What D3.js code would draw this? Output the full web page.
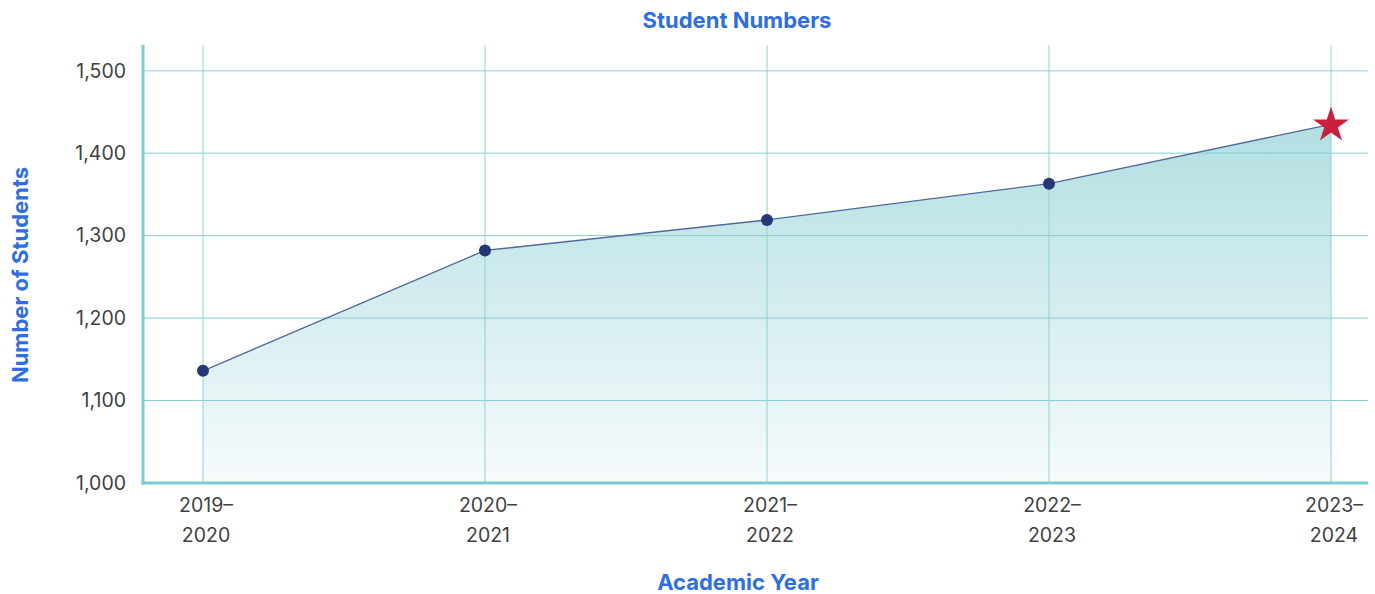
<!DOCTYPE html>
<html>
<head>
<meta charset="utf-8">
<script src="https://cdn.jsdelivr.net/npm/d3@7"></script>
<style>
  body { margin: 0; background: #fff; }
  svg text { font-family: Inter, "Noto Sans", sans-serif; }
</style>
</head>
<body>
<svg id="chart" width="1375" height="594"></svg>
<script>
// data
const years = ["2019–2020", "2020–2021", "2021–2022", "2022–2023", "2023–2024"];
const students = [1136, 1282, 1319, 1363, 1435];
const yTicks = [1000, 1100, 1200, 1300, 1400, 1500];

const width = 1375, height = 594;
const plot = { left: 143, right: 1368, top: 45, bottom: 483 };

const svg = d3.select("#chart");

const x = d3.scalePoint()
    .domain(years)
    .range([203, 1331]);

const y = d3.scaleLinear()
    .domain([1000, 1500])
    .range([plot.bottom, 70.7]);

// gradient for the area
const defs = svg.append("defs");
const grad = defs.append("linearGradient")
    .attr("id", "areaGrad")
    .attr("gradientUnits", "userSpaceOnUse")
    .attr("x1", 0).attr("x2", 0)
    .attr("y1", y(d3.max(students))).attr("y2", plot.bottom);
grad.append("stop").attr("offset", "0%").attr("stop-color", "#b2dfe2");
grad.append("stop").attr("offset", "100%").attr("stop-color", "#f7fbfc");

const rows = years.map((yr, i) => ({ yr, v: students[i] }));

// area
const area = d3.area()
    .x(d => x(d.yr))
    .y0(plot.bottom)
    .y1(d => y(d.v));

svg.append("path")
    .datum(rows)
    .attr("d", area)
    .attr("fill", "url(#areaGrad)");

// horizontal grid
svg.append("g")
    .selectAll("line")
    .data(yTicks.filter(t => t > 1000))
    .join("line")
    .attr("x1", plot.left)
    .attr("x2", plot.right)
    .attr("y1", d => y(d))
    .attr("y2", d => y(d))
    .attr("stroke", d => d == 1500 ? "#b3e3e6" : "#85cdd1")
    .attr("stroke-width", d => d == 1500 ? 1.5 : 1);

// vertical grid
svg.append("g")
    .selectAll("line")
    .data(years)
    .join("line")
    .attr("x1", d => x(d))
    .attr("x2", d => x(d))
    .attr("y1", plot.top)
    .attr("y2", plot.bottom)
    .attr("stroke", "#8fd2d6")
    .attr("stroke-width", 1);

// line
const line = d3.line()
    .x(d => x(d.yr))
    .y(d => y(d.v));

svg.append("path")
    .datum(rows)
    .attr("d", line)
    .attr("fill", "none")
    .attr("stroke", "#50699a")
    .attr("stroke-width", 1.3);

// axes lines
svg.append("line")
    .attr("x1", plot.left).attr("x2", plot.left)
    .attr("y1", plot.top).attr("y2", plot.bottom + 1.5)
    .attr("stroke", "#78cdd2").attr("stroke-width", 3);
svg.append("line")
    .attr("x1", plot.left - 1.5).attr("x2", plot.right)
    .attr("y1", plot.bottom).attr("y2", plot.bottom)
    .attr("stroke", "#78cdd2").attr("stroke-width", 3);

// dots (all but last)
svg.append("g")
    .selectAll("circle")
    .data(rows.slice(0, -1))
    .join("circle")
    .attr("cx", d => x(d.yr))
    .attr("cy", d => y(d.v))
    .attr("r", 6)
    .attr("fill", "#263776");

// star on last point
const last = rows[rows.length - 1];
svg.append("path")
    .attr("d", d3.symbol().type(d3.symbolStar).size(400)())
    .attr("transform", `translate(${x(last.yr)},${y(last.v) + 1})`)
    .attr("fill", "#c9213d");

// y tick labels
svg.append("g")
    .selectAll("text")
    .data(yTicks)
    .join("text")
    .attr("x", 126)
    .attr("y", d => y(d))
    .attr("dy", "0.35em")
    .attr("text-anchor", "end")
    .attr("font-size", 19.5)
    .attr("fill", "#3f3f3f")
    .text(d => d3.format(",")(d));

// x tick labels (two lines)
const xl = svg.append("g")
    .selectAll("text")
    .data(years)
    .join("text")
    .attr("text-anchor", "middle")
    .attr("font-size", 19.5)
    .attr("fill", "#3f3f3f");
xl.append("tspan")
    .attr("x", d => x(d) + 3)
    .attr("y", 512)
    .text(d => d.split("–")[0] + "–");
xl.append("tspan")
    .attr("x", d => x(d) + 3)
    .attr("y", 542)
    .text(d => d.split("–")[1]);

// titles
svg.append("text")
    .attr("x", 737)
    .attr("y", 28)
    .attr("text-anchor", "middle")
    .attr("font-size", 22)
    .attr("font-weight", 700)
    .attr("fill", "#2e6ee0")
    .text("Student Numbers");

svg.append("text")
    .attr("x", 738)
    .attr("y", 590)
    .attr("text-anchor", "middle")
    .attr("font-size", 22)
    .attr("font-weight", 700)
    .attr("fill", "#2e6ee0")
    .text("Academic Year");

svg.append("text")
    .attr("transform", "translate(28,275) rotate(-90)")
    .attr("text-anchor", "middle")
    .attr("font-size", 22)
    .attr("font-weight", 700)
    .attr("fill", "#2e6ee0")
    .text("Number of Students");
</script>
</body>
</html>
